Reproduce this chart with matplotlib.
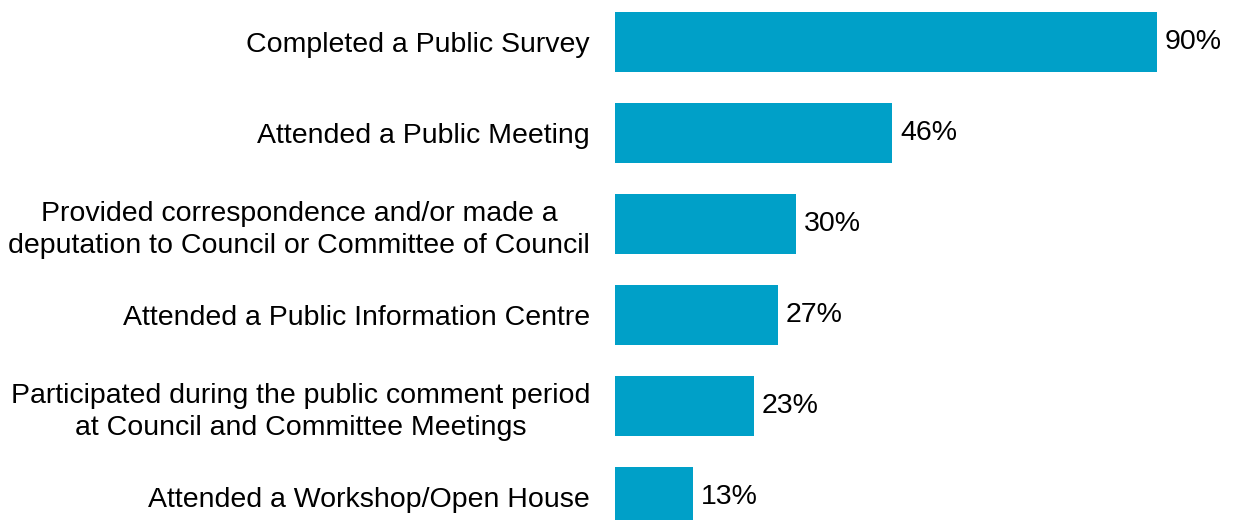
import matplotlib.pyplot as plt

labels = [
    'Completed a Public Survey',
    'Attended a Public Meeting',
    'Provided correspondence and/or made a\ndeputation to Council or Committee of Council',
    'Attended a Public Information Centre',
    'Participated during the public comment period\nat Council and Committee Meetings',
    'Attended a Workshop/Open House',
]
values = [90, 46, 30, 27, 23, 13]

plt.rcParams['font.family'] = ['Liberation Sans', 'DejaVu Sans']

fig = plt.figure(figsize=(12.33, 5.2), dpi=100)
ax = fig.add_axes([0.4988, 0.0, 0.5012, 1.0])

pos = list(range(len(values)))
ax.barh(pos, values, height=0.66, color='#00A0C8')

for p, v in zip(pos, values):
    ax.text(v + 1.3, p, str(v) + '%', va='center', ha='left', fontsize=20.5)

ax.set_xlim(0, 102.6)
ax.set_ylim(5.25, -0.46)
ax.set_yticks(pos)
ax.set_yticklabels(labels, fontsize=20.5, multialignment='center', linespacing=1.3)
ax.tick_params(axis='y', length=0, pad=18)
ax.set_xticks([])
for s in ax.spines.values():
    s.set_visible(False)

plt.savefig('out.png', dpi=100)
